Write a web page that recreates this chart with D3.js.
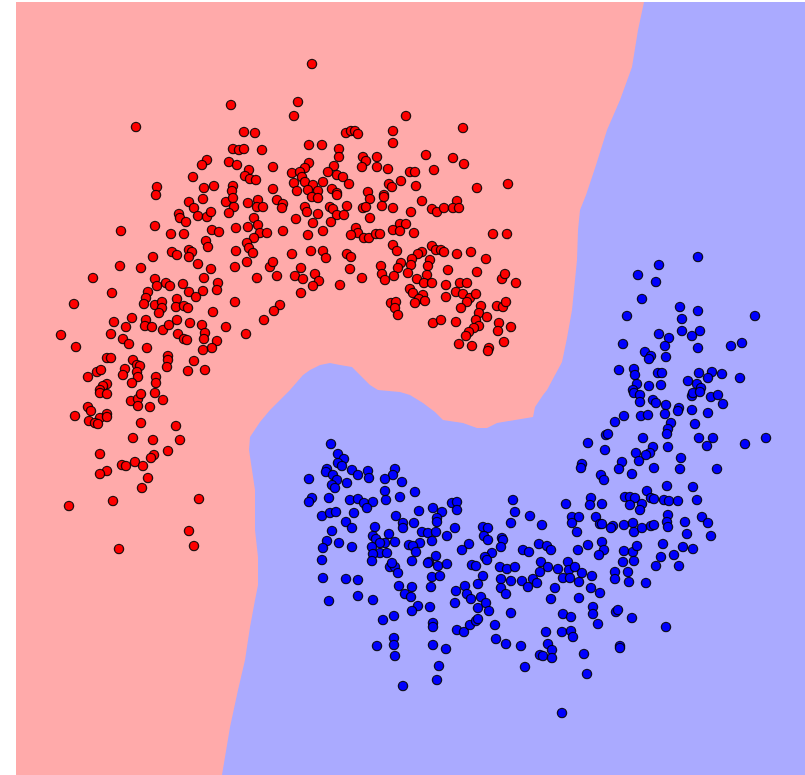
<!DOCTYPE html>
<html>
<head>
<meta charset="utf-8">
<script src="https://d3js.org/d3.v7.min.js"></script>
<style>
body {margin:0; background:#fff;}
</style>
</head>
<body>
<div id="chart"></div>
<script>

// decision region of class 0 (red), the rest of the plane is class 1 (blue)
var red_region=[
[16,2],[644,2],[638,30],[632,67],[620,100],[607,130],[596,165],[586,195],[580,210],[578,230],[577,260],
[574,290],[572,310],[567,338],[562,362],[555,375],[547,390],[543,395],[535,407],[533,417],[515,420],
[497,423],[487,428],[477,428],[463,423],[443,420],[435,412],[423,403],[410,395],[400,392],[378,390],
[370,385],[360,375],[352,367],[340,365],[330,363],[320,365],[310,370],[303,375],[290,390],[280,400],
[270,410],[260,422],[250,437],[249,450],[252,470],[255,490],[255,530],[258,557],[258,585],[255,600],
[250,627],[245,660],[238,690],[230,727],[222,775],[16,775]
];

var red_points=[
[231,105],[136,127],[244,132],[255,133],[233,149],[239,150],[244,149],[262,150],[207,160],[202,165],
[229,162],[237,165],[249,170],[245,176],[250,179],[256,180],[193,177],[157,187],[204,188],[214,186],
[233,186],[232,191],[156,195],
[312,64],[298,102],[294,116],[406,116],[463,128],[346,133],[351,131],[355,131],[358,134],[393,131],
[393,143],[309,145],[322,145],[339,149],[339,157],[363,157],[377,157],[366,161],[426,155],[453,158],
[464,164],[273,167],[309,163],[305,168],[334,166],[362,167],[377,167],[388,169],[410,172],[415,172],
[434,170],[292,173],[300,172],[302,177],[328,172],[337,175],[343,177],[294,183],[305,182],[313,185],
[323,182],[349,184],[389,184],[392,187],[401,181],[416,186],[477,188],[508,184],[273,189],[297,191],
[308,190],[318,191],[332,189],[337,193],[368,192],[384,195],
[189,202],[203,199],[226,202],[233,198],[234,207],[248,203],[258,200],[257,207],[263,207],[194,208],
[179,214],[180,218],[186,222],[198,216],[207,217],[211,212],[229,213],[254,218],[258,225],[121,231],
[155,226],[171,234],[184,234],[212,230],[219,232],[236,228],[248,227],[260,233],[267,233],[254,238],
[206,241],[208,247],[247,243],[249,248],[253,253],[247,262],[189,250],[192,252],[189,257],[172,252],
[177,255],[236,251],[153,257],[198,264],[120,266],[141,268],[211,269],[235,267],[270,267],[93,278],
[155,279],[166,283],[170,286],[157,286],[183,284],[204,278],[218,283],[257,278],[112,293],[148,292],
[189,292],[203,291],[217,290],[196,297],[74,304],[146,298],[144,304],[155,305],[162,302],[162,308],
[159,313],[177,299],[176,307],[184,306],[188,308],[235,302],[213,312],[132,318],[114,322],[146,320],
[145,326],[152,327],[163,330],[169,325],[177,320],[190,323],[202,325],[226,327],[264,320],[61,335],
[111,334],[126,327],[178,334],[184,339],[187,340],[205,333],[204,339],[217,341],[212,348],[203,350],
[246,334],[76,347],[123,339],[129,344],[147,348],[168,356],[168,360],[107,358],[111,358],[133,360],
[137,365],[140,366],[194,361],[167,367],[188,371],[205,370],[88,377],[97,372],[101,370],[125,369],
[123,375],[137,372],[138,377],[156,377],[156,383],[107,384],[103,386],[132,383],[100,390],
[100,393],[107,394],[131,401],[138,399],[141,394],[155,393],[163,400],[138,406],[150,407],[88,407],
[91,411],[75,416],[100,418],[107,414],[107,417],[89,421],[95,423],[98,424],[141,423],[176,426],
[133,438],[153,440],[180,440],[168,451],[100,454],[154,455],[151,458],[122,465],[126,466],[135,462],
[143,466],[107,471],[100,474],[148,478],[142,488],[69,506],[113,501],[199,499],[189,531],[194,546],
[119,549],
[277,200],[283,204],[282,208],[312,197],[318,198],[337,195],[370,199],[384,197],[422,201],[457,201],
[305,207],[307,212],[330,207],[333,209],[347,206],[363,208],[366,207],[382,206],[393,208],[432,209],
[437,212],[444,208],[453,208],[459,208],[411,212],[318,214],[337,215],[344,215],[370,218],[296,219],
[313,223],[331,222],[400,224],[406,224],[283,231],[308,235],[323,231],[356,228],[358,233],[351,235],
[364,238],[369,238],[376,234],[380,234],[393,230],[400,231],[414,233],[493,234],[507,234],[393,245],
[397,251],[432,246],[436,250],[441,250],[444,252],[422,252],[418,254],[457,254],[471,252],[486,259],
[292,254],[311,251],[323,251],[326,258],[347,254],[351,257],[273,262],[412,259],[430,260],[381,266],
[401,263],[398,268],[411,265],[428,266],[448,270],[477,272],[301,268],[350,269],[277,276],[295,276],
[303,279],[315,274],[319,281],[313,286],[340,285],[362,278],[382,274],[385,280],[394,276],[408,273],
[417,279],[427,275],[424,283],[432,283],[446,285],[460,283],[467,283],[502,279],[505,274],[516,283],
[301,293],[410,289],[413,293],[456,292],[463,294],[470,298],[476,294],[423,295],[419,299],[425,301],
[415,303],[446,297],[467,302],[481,306],[497,306],[503,307],[506,302],[391,303],[396,302],[395,308],
[461,308],[280,305],[274,311],[398,315],[479,313],[487,317],[433,323],[441,320],[456,322],[476,320],
[479,326],[474,328],[499,323],[498,331],[511,327],[469,332],[466,336],[459,344],[472,346],[504,342],
[489,348],[488,351]
];

var blue_points=[
[698,257],[659,265],[638,275],[656,282],[642,299],[627,316],[680,307],[698,311],[755,316],[682,319],
[682,331],[700,331],[692,336],[659,334],[669,338],[665,346],[623,344],[698,348],[731,346],[742,343],
[645,352],[651,356],[649,359],[666,357],[619,370],[634,369],[635,375],[658,373],[662,373],[699,373],
[712,372],[722,374],[708,378],[740,378],[688,381],[637,384],[649,386],[661,385],[697,384],[701,388],
[633,390],
[634,393],[640,395],[640,402],[653,400],[656,403],[666,405],[665,414],[679,408],[678,411],[692,396],
[693,393],[700,392],[711,397],[718,395],[723,404],[692,410],[708,413],[624,416],[641,416],[648,415],
[615,422],[671,423],[668,429],[667,434],[695,424],[606,435],[608,434],[643,438],[699,438],[713,438],
[707,446],[745,444],[766,438],[588,443],[605,450],[668,447],[653,447],[650,453],[646,455],[636,453],
[639,461],[681,458],[680,469],[717,469],[582,464],[581,468],[622,462],[619,469],[654,468],[632,474],
[601,475],[604,480],[667,486],[693,487],[647,491],[625,497],[630,497],[635,498],[651,498],[654,499],
[642,504],[630,505],[640,510],[664,500],[669,501],[678,501],[697,500],[591,498],[590,505],[602,504],
[566,504],[668,515],[667,522],[668,527],[702,517],[708,523],[685,522],[687,534],[711,536],[572,517],
[579,517],[572,523],[596,517],[600,524],[602,524],[613,526],[611,528],[624,525],[633,523],[634,532],
[642,528],[651,526],[654,525],[577,532],[542,525],[539,544],[547,546],[551,550],[578,550],[588,545],
[602,542],[604,550],[599,555],[624,551],[633,552],[637,546],[663,544],[683,547],[693,549],[674,555],
[661,557],[623,562],[634,561],[656,566],[679,566],[541,562],[548,567],[558,569],[568,562],[569,570],
[575,567],[582,573],[592,576],[615,572],[628,572],[540,572],[563,578],[570,578],[579,582],[615,579],
[629,582],[646,583],
[331,444],[338,454],[344,459],[338,463],[342,466],[327,469],[326,472],[352,470],[358,475],[368,471],
[369,478],[333,475],[337,480],[309,479],[347,483],[332,485],[335,488],[395,469],[393,475],[385,479],
[402,482],[385,491],[386,500],[400,497],[415,492],[312,498],[309,502],[329,498],[350,500],[358,499],
[364,503],[373,502],[367,508],[354,513],[322,516],[330,513],[336,512],[346,522],[352,528],[332,531],
[396,516],[403,523],[403,528],[414,523],[419,511],[433,508],[442,512],[437,518],[437,522],[452,503],
[457,502],[457,510],[455,528],[375,527],[373,536],[376,539],[389,534],[395,542],[385,543],[380,543],
[372,547],[380,553],[387,553],[373,554],[372,561],[422,532],[428,533],[436,532],[432,541],[420,543],
[409,545],[413,546],[416,552],[412,561],[447,536],[436,556],[429,562],[428,563],[438,566],[447,564],
[390,567],[395,567],[398,573],[392,563],[339,543],[327,541],[352,547],[323,548],[322,560],[323,578],
[346,579],[358,580],[432,577],[440,576],[469,544],[462,550],[483,527],[488,528],[484,536],[488,540],
[502,538],[503,540],[501,547],[492,553],[485,557],[487,560],[472,565],[476,566],[483,576],[500,567],
[507,569],[515,567],[501,579],[511,581],[522,581],[533,579],[513,500],[515,512],[530,516],[511,523],
[523,550],[529,552],
[399,586],[412,587],[405,594],[411,597],[431,587],[456,591],[465,586],[467,594],[471,599],[478,584],
[481,597],[486,603],[489,611],[478,608],[455,603],[430,607],[418,606],[412,611],[501,588],[506,594],
[528,587],[537,583],[511,613],[329,601],[358,596],[373,600],[383,620],[394,616],[433,623],[433,627],
[457,630],[464,632],[470,625],[476,621],[478,619],[495,625],[496,639],[506,644],[521,646],[540,655],
[525,667],[377,646],[394,638],[394,645],[395,656],[433,645],[446,649],[439,666],[437,680],[403,686],
[591,588],[555,588],[551,599],[579,598],[600,593],[593,607],[593,614],[563,614],[571,617],[598,624],
[616,612],[618,610],[632,618],[666,627],[546,632],[562,632],[571,631],[573,637],[548,644],[552,650],
[543,656],[552,658],[584,654],[620,646],[620,648],[587,674],[562,713]
];

var class_colors=['#ff0000','#0000ff'];
var region_colors=['#ffaaaa','#aaaaff'];
var x_domain=[16,805];
var y_domain=[2,775];

function draw() {
	var W=805, H=775;
	var svg=d3.select('#chart').append('svg')
		.attr('width',W)
		.attr('height',H);

	var xScale=d3.scaleLinear().domain(x_domain).range([16,805]);
	var yScale=d3.scaleLinear().domain(y_domain).range([2,775]);

	// background = blue class region
	svg.append('rect')
		.attr('x',xScale(x_domain[0]))
		.attr('y',yScale(y_domain[0]))
		.attr('width',xScale(x_domain[1])-xScale(x_domain[0]))
		.attr('height',yScale(y_domain[1])-yScale(y_domain[0]))
		.attr('fill',region_colors[1]);

	var line=d3.line()
		.x(function(d) {return xScale(d[0]);})
		.y(function(d) {return yScale(d[1]);});
	svg.append('path')
		.attr('d',line(red_region)+'Z')
		.attr('fill',region_colors[0]);

	var sets=[red_points,blue_points];
	for (var k=0; k<sets.length; k++) {
		svg.append('g').selectAll('circle')
			.data(sets[k])
			.enter().append('circle')
			.attr('cx',function(d) {return xScale(d[0]);})
			.attr('cy',function(d) {return yScale(d[1]);})
			.attr('r',4.6)
			.attr('fill',class_colors[k])
			.attr('stroke','#000')
			.attr('stroke-opacity',0.85)
			.attr('stroke-width',1.4);
	}
}

draw();
</script>
</body>
</html>
